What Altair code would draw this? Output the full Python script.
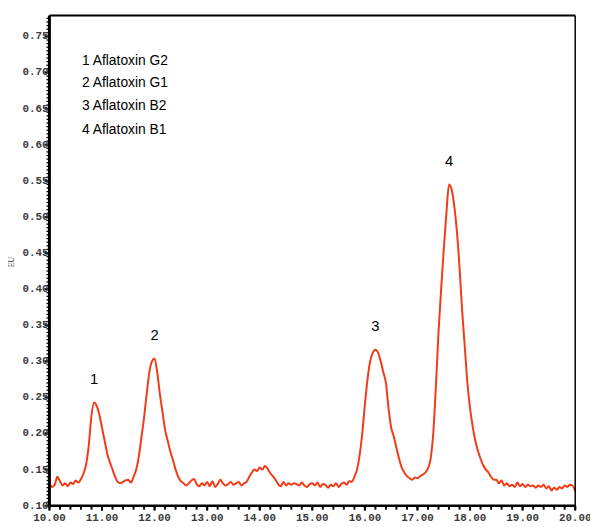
import altair as alt
import pandas as pd

# retention time grid (min), sampled every 0.05 min
times = [round(10 + 0.05 * i, 2) for i in range(201)]

# detector response (EU)
signal = [
    0.132, 0.126, 0.129, 0.140, 0.134, 0.128, 0.131, 0.127, 0.132, 0.130,  # 10.00
    0.135, 0.132, 0.137, 0.145, 0.158, 0.185, 0.225, 0.243, 0.238, 0.226,  # 10.50
    0.208, 0.190, 0.172, 0.160, 0.150, 0.140, 0.133, 0.131, 0.133, 0.135,  # 11.00
    0.136, 0.132, 0.140, 0.150, 0.168, 0.195, 0.222, 0.255, 0.285, 0.300,  # 11.50
    0.304, 0.285, 0.255, 0.230, 0.205, 0.190, 0.175, 0.163, 0.150, 0.140,  # 12.00
    0.134, 0.131, 0.128, 0.131, 0.135, 0.137, 0.130, 0.127, 0.131, 0.128,  # 12.50
    0.133, 0.127, 0.134, 0.126, 0.130, 0.136, 0.131, 0.128, 0.130, 0.133,  # 13.00
    0.129, 0.131, 0.133, 0.128, 0.131, 0.133, 0.140, 0.146, 0.150, 0.148,  # 13.50
    0.153, 0.150, 0.155, 0.151, 0.145, 0.141, 0.136, 0.130, 0.127, 0.133,  # 14.00
    0.128, 0.131, 0.129, 0.131, 0.130, 0.128, 0.132, 0.128, 0.126, 0.130,  # 14.50
    0.131, 0.128, 0.132, 0.126, 0.130, 0.129, 0.125, 0.129, 0.127, 0.131,  # 15.00
    0.126, 0.130, 0.132, 0.129, 0.134, 0.133, 0.140, 0.150, 0.170, 0.200,  # 15.50
    0.240, 0.275, 0.300, 0.312, 0.316, 0.312, 0.300, 0.285, 0.270, 0.235,  # 16.00
    0.208, 0.196, 0.180, 0.165, 0.153, 0.146, 0.141, 0.138, 0.136, 0.139,  # 16.50
    0.138, 0.141, 0.143, 0.146, 0.152, 0.165, 0.200, 0.265, 0.340, 0.400,  # 17.00
    0.455, 0.505, 0.545, 0.538, 0.515, 0.480, 0.430, 0.370, 0.320, 0.270,  # 17.50
    0.235, 0.210, 0.190, 0.176, 0.165, 0.156, 0.150, 0.146, 0.140, 0.136,  # 18.00
    0.136, 0.131, 0.135, 0.128, 0.131, 0.127, 0.129, 0.126, 0.132, 0.127,  # 18.50
    0.130, 0.126, 0.129, 0.127, 0.128, 0.125, 0.128, 0.126, 0.129, 0.124,  # 19.00
    0.127, 0.121, 0.125, 0.122, 0.126, 0.124, 0.128, 0.126, 0.129, 0.128,  # 19.50
    0.120,                                                                  # 20.00
]

peak_labels = ["1", "2", "3", "4"]
peak_times = [10.85, 12.00, 16.20, 17.60]
peak_heights = [0.243, 0.304, 0.316, 0.545]

legend_items = ["1 Aflatoxin G2", "2 Aflatoxin G1", "3 Aflatoxin B2", "4 Aflatoxin B1"]
legend_x = [10.62] * 4
legend_y = [0.716, 0.685, 0.653, 0.620]

x_major = [10, 11, 12, 13, 14, 15, 16, 17, 18, 19, 20]
x_labels = ["10.00", "11.00", "12.00", "13.00", "14.00", "15.00",
            "16.00", "17.00", "18.00", "19.00", "20.00"]
y_major = [0.10, 0.15, 0.20, 0.25, 0.30, 0.35, 0.40, 0.45, 0.50, 0.55, 0.60, 0.65, 0.70, 0.75]
y_labels = ["0.10", "0.15", "0.20", "0.25", "0.30", "0.35", "0.40",
            "0.45", "0.50", "0.55", "0.60", "0.65", "0.70", "0.75"]
x_minor = [round(10 + 0.2 * i, 2) for i in range(51)]
y_minor = [round(0.10 + 0.005 * i, 3) for i in range(136)]
y_title = "EU"

W, H = 533, 497

df = pd.DataFrame({"t": times, "v": signal})
peaks = pd.DataFrame({"label": peak_labels, "t": peak_times, "v": peak_heights})
leg = pd.DataFrame({"text": legend_items, "t": legend_x, "v": legend_y})
xmaj = pd.DataFrame({"t": x_major, "lab": x_labels})
ymaj = pd.DataFrame({"v": y_major, "lab": y_labels})
xm = pd.DataFrame({"t": x_minor})
ym = pd.DataFrame({"v": y_minor})
ttl = pd.DataFrame({"lab": [y_title]})
frame = pd.DataFrame({"k": [0]})

xs = alt.Scale(domain=[10, 20], nice=False, zero=False)
ys = alt.Scale(domain=[0.10, 0.779], nice=False, zero=False)


def X(field):
    return alt.X(field, scale=xs, axis=None)


def Y(field):
    return alt.Y(field, scale=ys, axis=None)


TICKFONT = dict(font="Liberation Mono", fontWeight="bold", fontSize=11, color="#3a3a3a")

line = alt.Chart(df).mark_line(color="#f23a17", strokeWidth=2, interpolate="monotone").encode(
    x=X("t:Q"), y=Y("v:Q"),
)

# axis furniture
x_major_ticks = alt.Chart(xmaj).mark_rule(color="black", strokeWidth=2).encode(
    x=X("t:Q"), y=alt.value(H), y2=alt.value(H + 5)
)
x_minor_ticks = alt.Chart(xm).mark_rule(color="black", strokeWidth=2).encode(
    x=X("t:Q"), y=alt.value(H), y2=alt.value(H + 4)
)
y_major_ticks = alt.Chart(ymaj).mark_rule(color="black", strokeWidth=2).encode(
    y=Y("v:Q"), x=alt.value(0), x2=alt.value(-5)
)
y_minor_ticks = alt.Chart(ym).mark_rule(color="black", strokeWidth=1.3).encode(
    y=Y("v:Q"), x=alt.value(0), x2=alt.value(-3)
)
left_edge = alt.Chart(frame).mark_rule(color="black", strokeWidth=3).encode(
    x=alt.value(0), y=alt.value(0), y2=alt.value(H)
)
bottom_edge = alt.Chart(frame).mark_rule(color="black", strokeWidth=2.5).encode(
    y=alt.value(H), x=alt.value(0), x2=alt.value(W)
)
top_edge = alt.Chart(frame).mark_rule(color="black", strokeWidth=2).encode(
    y=alt.value(0), x=alt.value(0), x2=alt.value(W)
)
right_edge = alt.Chart(frame).mark_rule(color="black", strokeWidth=1.5).encode(
    x=alt.value(W), y=alt.value(0), y2=alt.value(H)
)

x_tick_labels = alt.Chart(xmaj).mark_text(baseline="top", align="center", **TICKFONT).encode(
    x=X("t:Q"), y=alt.value(H + 7), text="lab:N"
)
y_tick_labels = alt.Chart(ymaj).mark_text(baseline="middle", align="right", **TICKFONT).encode(
    y=Y("v:Q"), x=alt.value(-1), text="lab:N"
)
y_title_text = alt.Chart(ttl).mark_text(
    font="Liberation Serif", fontSize=8, color="#333333", angle=270,
    align="center", baseline="middle"
).encode(x=alt.value(-38), y=alt.value(250), text="lab:N")

peak_text = alt.Chart(peaks).mark_text(
    font="Liberation Sans", fontSize=15, color="black", dy=-24, baseline="middle", align="center"
).encode(x=X("t:Q"), y=Y("v:Q"), text="label:N")

legend_text = alt.Chart(leg).mark_text(
    font="Liberation Sans", fontSize=14, color="black", align="left", baseline="middle"
).encode(x=X("t:Q"), y=Y("v:Q"), text="text:N")

chart = alt.layer(
    line, x_minor_ticks, x_major_ticks, y_minor_ticks, y_major_ticks,
    left_edge, bottom_edge, top_edge, right_edge,
    x_tick_labels, y_tick_labels, y_title_text, peak_text, legend_text,
).properties(
    width=W, height=H, background="white",
    autosize=alt.AutoSizeParams(type="none"),
    padding={"left": 42, "top": 4, "right": 15, "bottom": 16},
).configure_view(strokeWidth=0)

chart.save("out.html", embed_options={"renderer": "svg", "actions": False})
